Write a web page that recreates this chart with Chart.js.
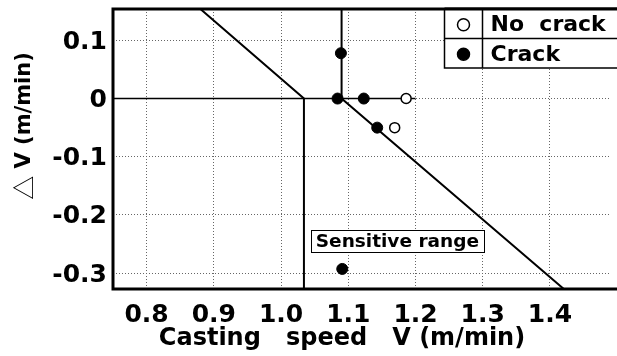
<!DOCTYPE html>
<html>
<head>
<meta charset="utf-8">
<script src="https://cdn.jsdelivr.net/npm/chart.js@4/dist/chart.umd.min.js"></script>
<style>
  html, body { margin: 0; padding: 0; background: #fff; }
  canvas { display: block; }
</style>
</head>
<body>
<canvas id="c" width="617" height="356"></canvas>
<script>
// ---- data ----
const xTickValues = [0.8, 0.9, 1.0, 1.1, 1.2, 1.3, 1.4];
const xTickLabels = ['0.8', '0.9', '1.0', '1.1', '1.2', '1.3', '1.4'];
const yTickValues = [0.1, 0, -0.1, -0.2, -0.3];
const yTickLabels = ['0.1', '0', '-0.1', '-0.2', '-0.3'];

const crackX = [1.089, 1.084, 1.123, 1.143, 1.091];
const crackY = [0.078, 0, 0, -0.05, -0.293];
const noCrackX = [1.186, 1.169];
const noCrackY = [0, -0.05];

const boundaryAX = [0.88, 1.034, 1.034];
const boundaryAY = [0.154, 0, -0.3275];
const boundaryBX = [1.09, 1.09, 1.4206];
const boundaryBY = [0.154, 0, -0.3275];
const zeroLineX = [0.75, 1.2];
const zeroLineY = [0, 0];

const xRange = [0.75, 1.49];
const yRange = [-0.3275, 0.154];

const xTitle = 'Casting   speed   V (m/min)';
const yTitleSymbol = '\u25B3';
const yTitleRest = ' V (m/min)';
const sensitiveText = 'Sensitive range';
const sensitivePos = { x: 1.173, y: -0.245 };

const pts = (xs, ys) => xs.map((x, i) => ({ x: x, y: ys[i] }));
const FONT = "'DejaVu Sans', sans-serif";

const overlayPlugin = {
  id: 'overlay',
  afterDraw(chart) {
    const ctx = chart.ctx;
    const a = chart.chartArea;
    const xs = chart.scales.x, ys = chart.scales.y;
    ctx.save();
    ctx.setLineDash([]);
    // frame
    ctx.strokeStyle = '#000';
    ctx.lineWidth = 3;
    ctx.beginPath();
    ctx.moveTo(chart.width, a.top);
    ctx.lineTo(a.left, a.top);
    ctx.lineTo(a.left, a.bottom);
    ctx.lineTo(chart.width, a.bottom);
    ctx.stroke();

    // sensitive range label
    ctx.font = 'bold 18.5px ' + FONT;
    const tw = ctx.measureText(sensitiveText).width;
    const cx = xs.getPixelForValue(sensitivePos.x);
    const cy = ys.getPixelForValue(sensitivePos.y);
    const bw = tw + 10, bh = 22;
    ctx.fillStyle = '#fff';
    ctx.fillRect(cx - bw / 2, cy - bh / 2, bw, bh);
    ctx.lineWidth = 1;
    ctx.strokeStyle = '#000';
    ctx.strokeRect(Math.round(cx - bw / 2) + 0.5, Math.round(cy - bh / 2) + 0.5, Math.round(bw), Math.round(bh));
    ctx.fillStyle = '#000';
    ctx.textAlign = 'center';
    ctx.textBaseline = 'middle';
    ctx.fillText(sensitiveText, cx, cy + 1);

    // legend box
    const lx = a.right - 166, ly = a.top, lh = 59, rowH = lh / 2, colW = 38;
    ctx.fillStyle = '#fff';
    ctx.fillRect(lx, ly, chart.width - lx, lh);
    ctx.lineWidth = 1.5;
    ctx.strokeStyle = '#000';
    ctx.beginPath();
    ctx.moveTo(lx, ly); ctx.lineTo(lx, ly + lh); ctx.lineTo(chart.width, ly + lh);
    ctx.moveTo(lx, ly + rowH); ctx.lineTo(chart.width, ly + rowH);
    ctx.moveTo(lx + colW, ly); ctx.lineTo(lx + colW, ly + lh);
    ctx.stroke();
    ctx.lineWidth = 3;
    ctx.beginPath();
    ctx.moveTo(lx, ly); ctx.lineTo(chart.width, ly);
    ctx.stroke();
    const legendSets = [chart.data.datasets[1], chart.data.datasets[0]];
    ctx.font = 'bold 22px ' + FONT;
    ctx.textAlign = 'left';
    ctx.textBaseline = 'middle';
    legendSets.forEach((ds, i) => {
      const my = ly + rowH * i + rowH / 2 + 1;
      ctx.beginPath();
      ctx.arc(lx + 19, my, 6, 0, Math.PI * 2);
      ctx.fillStyle = ds.backgroundColor;
      ctx.fill();
      ctx.lineWidth = 1.5;
      ctx.strokeStyle = '#000';
      ctx.stroke();
      ctx.fillStyle = '#000';
      ctx.fillText(ds.label, lx + colW + 8, my + 1);
    });

    // axis titles
    ctx.fillStyle = '#000';
    ctx.font = 'bold 24px ' + FONT;
    ctx.textAlign = 'center';
    ctx.textBaseline = 'alphabetic';
    ctx.fillText(xTitle, 342, 345);

    ctx.save();
    ctx.translate(24, 126);
    ctx.rotate(-Math.PI / 2);
    ctx.textBaseline = 'middle';
    ctx.textAlign = 'left';
    const symFont = "24px 'Noto Sans CJK JP', 'DejaVu Sans', sans-serif";
    const restFont = 'bold 21px ' + FONT;
    ctx.font = symFont;
    const sw = ctx.measureText(yTitleSymbol).width;
    ctx.font = restFont;
    const rw = ctx.measureText(yTitleRest).width;
    const start = -(sw + rw) / 2;
    ctx.font = symFont;
    ctx.fillText(yTitleSymbol, start, 0);
    ctx.font = restFont;
    ctx.fillText(yTitleRest, start + sw, 1);
    ctx.restore();
    ctx.restore();
  }
};

new Chart(document.getElementById('c'), {
  type: 'scatter',
  data: {
    datasets: [
      { label: 'Crack', data: pts(crackX, crackY), pointRadius: 5.5, pointHoverRadius: 5.5,
        backgroundColor: '#000', borderColor: '#000', borderWidth: 1 },
      { label: 'No  crack', data: pts(noCrackX, noCrackY), pointRadius: 5, pointHoverRadius: 5,
        backgroundColor: '#fff', borderColor: '#000', borderWidth: 1.5 },
      { label: 'boundaryA', data: pts(boundaryAX, boundaryAY), showLine: true, pointRadius: 0,
        borderColor: '#000', borderWidth: 2, fill: false, tension: 0 },
      { label: 'boundaryB', data: pts(boundaryBX, boundaryBY), showLine: true, pointRadius: 0,
        borderColor: '#000', borderWidth: 2, fill: false, tension: 0 },
      { label: 'zero', data: pts(zeroLineX, zeroLineY), showLine: true, pointRadius: 0,
        borderColor: '#000', borderWidth: 1.5, fill: false, tension: 0 }
    ]
  },
  options: {
    responsive: false,
    animation: false,
    devicePixelRatio: 1,
    layout: { padding: { top: 9, right: 0, left: 0, bottom: 0 } },
    plugins: { legend: { display: false }, tooltip: { enabled: false } },
    scales: {
      x: {
        type: 'linear', min: xRange[0], max: xRange[1],
        afterFit: s => { s.height = 67; s.paddingLeft = 0; s.paddingRight = 0; },
        afterBuildTicks: s => { s.ticks = xTickValues.map(v => ({ value: v })); },
        ticks: {
          padding: 11, color: '#000', maxRotation: 0, autoSkip: false,
          font: { family: FONT, weight: 'bold', size: 25 },
          callback: (v) => { const i = xTickValues.findIndex(t => Math.abs(t - v) < 1e-9); return i >= 0 ? xTickLabels[i] : ''; }
        },
        grid: { color: '#666', lineWidth: 1, drawTicks: false },
        border: { display: false, dash: [1, 2] }
      },
      y: {
        type: 'linear', min: yRange[0], max: yRange[1],
        afterFit: s => { s.width = 113; s.paddingTop = 0; s.paddingBottom = 0; },
        afterBuildTicks: s => { s.ticks = yTickValues.map(v => ({ value: v })); },
        ticks: {
          padding: 6, color: '#000', autoSkip: false, labelOffset: 2,
          font: { family: FONT, weight: 'bold', size: 25 },
          callback: (v) => { const i = yTickValues.findIndex(t => Math.abs(t - v) < 1e-9); return i >= 0 ? yTickLabels[i] : ''; }
        },
        grid: { color: '#666', lineWidth: 1, drawTicks: false },
        border: { display: false, dash: [1, 2] }
      }
    }
  },
  plugins: [overlayPlugin]
});
</script>
</body>
</html>
